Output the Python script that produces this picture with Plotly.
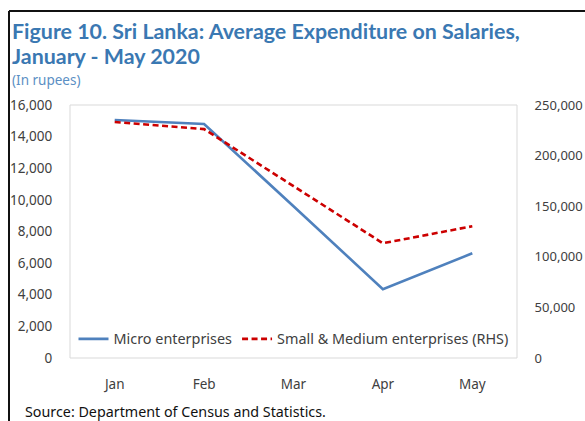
import plotly.graph_objects as go

# Monthly average salary expenditure, 2020 (rupees)
months = ["Jan", "Feb", "Mar", "Apr", "May"]
micro = [15050, 14800, 9600, 4350, 6620]
small_medium = [233200, 226200, 169800, 113400, 130200]

left_ticks = [0, 2000, 4000, 6000, 8000, 10000, 12000, 14000, 16000]
right_ticks = [0, 50000, 100000, 150000, 200000, 250000]

W, H = 585, 421
L, R, T, B = 70, 68, 105, 63
pw, ph = W - L - R, H - T - B


def px(x):
    return (x - L) / pw


def py(y):
    return (H - B - y) / ph


tick_font = dict(family="Noto Sans, Segoe UI, sans-serif", size=13.5, color="#404040")
right_tick_font = dict(family="Noto Sans, Segoe UI, sans-serif", size=13, color="#404040")
legend_font = dict(family="Noto Sans, Segoe UI, sans-serif", size=14.4, color="#404040")
title_blue = "#3a78b2"

fig = go.Figure()
fig.add_trace(go.Scatter(
    x=months, y=micro, name="Micro enterprises", mode="lines",
    line=dict(color="#4f81bd", width=2.6), yaxis="y",
))
fig.add_trace(go.Scatter(
    x=months, y=small_medium, name="Small & Medium enterprises (RHS)", mode="lines",
    line=dict(color="#cc0000", width=2.6, dash="6px,3.5px"), yaxis="y2",
))

fig.update_layout(
    width=W, height=H,
    margin=dict(l=L, r=R, t=T, b=B, autoexpand=False),
    paper_bgcolor="white", plot_bgcolor="white",
    showlegend=True,
    legend=dict(
        orientation="h", x=0.5, xanchor="center", y=py(339), yanchor="middle",
        font=legend_font, bgcolor="rgba(0,0,0,0)", itemwidth=30,
    ),
    xaxis=dict(
        type="category", range=[-0.5, 4.5], showgrid=False, zeroline=False,
        showline=False, ticks="outside", ticklen=14, tickcolor="rgba(0,0,0,0)",
        tickfont=tick_font, automargin=False,
    ),
    yaxis=dict(
        range=[0, 16000], tickvals=left_ticks, tickformat=",", showgrid=False,
        zeroline=False, showline=False, ticks="outside", ticklen=14,
        tickcolor="rgba(0,0,0,0)", tickfont=tick_font, automargin=False,
    ),
    yaxis2=dict(
        range=[0, 250000], tickvals=right_ticks, tickformat=",", overlaying="y",
        side="right", showgrid=False, zeroline=False, showline=False,
        ticks="outside", ticklen=14, tickcolor="rgba(0,0,0,0)",
        tickfont=right_tick_font, automargin=False,
    ),
    shapes=[
        # plot area border
        dict(type="rect", xref="paper", yref="paper", x0=0, x1=1, y0=0, y1=1,
             line=dict(color="#d9d9d9", width=1), layer="below"),
        # outer frame (left and top edges)
        dict(type="line", xref="paper", yref="paper", x0=px(9), x1=px(600),
             y0=py(11), y1=py(11), line=dict(color="#111111", width=2)),
        dict(type="line", xref="paper", yref="paper", x0=px(9), x1=px(9),
             y0=py(430), y1=py(11), line=dict(color="#111111", width=2)),
    ],
    annotations=[
        dict(text="<b>Figure 10. Sri Lanka: Average Expenditure on Salaries,</b>",
             x=px(10), y=py(31), xref="paper", yref="paper", xanchor="left",
             yanchor="middle", showarrow=False,
             font=dict(family="Lato, sans-serif", size=21.4, color=title_blue)),
        dict(text="<b>January - May 2020</b>",
             x=px(10), y=py(56), xref="paper", yref="paper", xanchor="left",
             yanchor="middle", showarrow=False,
             font=dict(family="Lato, sans-serif", size=21.4, color=title_blue)),
        dict(text="(In rupees)",
             x=px(10), y=py(80), xref="paper", yref="paper", xanchor="left",
             yanchor="middle", showarrow=False,
             font=dict(family="Noto Sans, sans-serif", size=13.5, color="#5b8fc4")),
        dict(text="Source: Department of Census and Statistics.",
             x=px(23), y=py(411), xref="paper", yref="paper", xanchor="left",
             yanchor="middle", showarrow=False,
             font=dict(family="Noto Sans, sans-serif", size=14.3, color="#111111")),
    ],
)

fig.write_html("out.html")
